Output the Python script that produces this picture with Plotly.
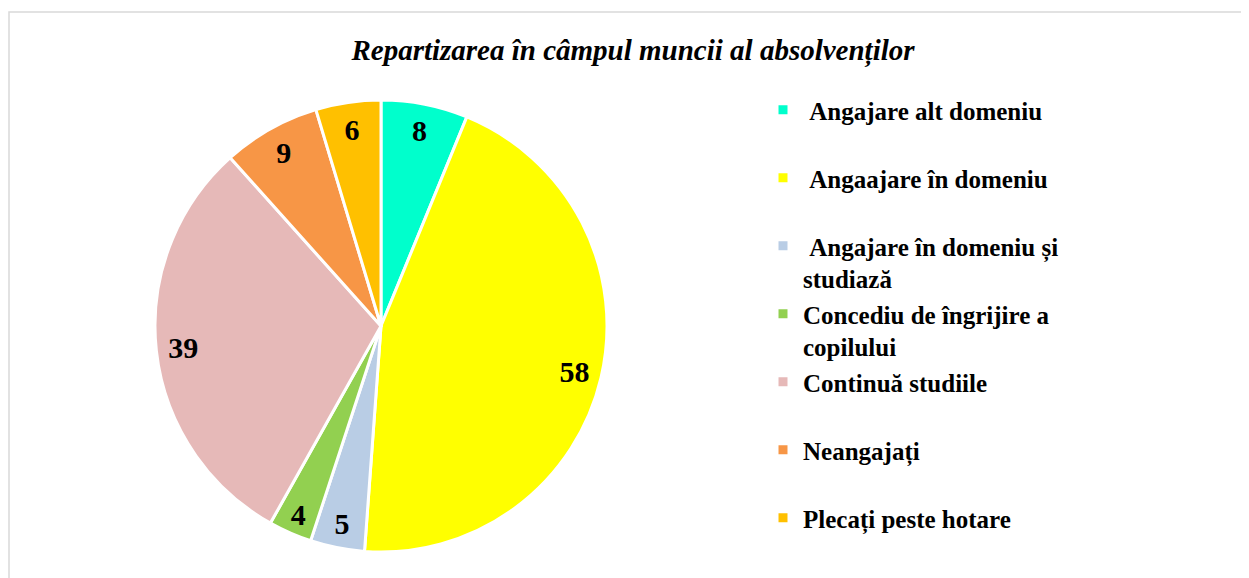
import plotly.graph_objects as go

categories = [
    "\u00a0Angajare alt domeniu<br>\u00a0",
    "\u00a0Angaajare în domeniu<br>\u00a0",
    "\u00a0Angajare în domeniu și<br>studiază",
    "Concediu de îngrijire a<br>copilului",
    "Continuă studiile<br>\u00a0",
    "Neangajați<br>\u00a0",
    "Plecați peste hotare<br>\u00a0",
]
values = [8, 58, 5, 4, 39, 9, 6]
colors = ["#00FFCC", "#FFFF00", "#B9CDE5", "#92D050", "#E6B9B8", "#F79646", "#FFC000"]

W, H = 1249, 578
OFF = 8  # page body margin offset
domain = dict(x=[(155 - OFF) / W, (607 - OFF) / W],
              y=[1 - (552 - OFF) / H, 1 - (100 - OFF) / H])

fig = go.Figure()
fig.add_trace(go.Pie(
    labels=categories,
    values=values,
    sort=False,
    direction="clockwise",
    rotation=0,
    marker=dict(colors=colors, line=dict(color="white", width=3)),
    textinfo="none",
    domain=domain,
    showlegend=True,
))
# transparent ring used only to position the value labels near the rim
fig.add_trace(go.Pie(
    labels=categories,
    values=values,
    sort=False,
    direction="clockwise",
    rotation=0,
    hole=0.76,
    marker=dict(colors=["rgba(0,0,0,0)"] * len(values), line=dict(width=0)),
    textinfo="value",
    textposition="inside",
    insidetextorientation="horizontal",
    textfont=dict(family="Liberation Serif", size=30, color="black", weight="bold"),
    domain=domain,
    showlegend=False,
    hoverinfo="skip",
))

fig.update_layout(
    width=W, height=H,
    margin=dict(l=0, r=0, t=0, b=0),
    paper_bgcolor="white",
    title=dict(
        text="<b><i>Repartizarea în câmpul muncii al absolvenților</i></b>",
        x=(633 - OFF) / W, xanchor="center", y=1 - (50 - OFF) / H, yanchor="middle",
        font=dict(family="Liberation Serif", size=29, color="black"),
    ),
    legend=dict(
        x=(763 - OFF) / W, xanchor="left", y=1 - (87 - OFF) / H, yanchor="top",
        font=dict(family="Liberation Serif", size=25, color="black", weight="bold"),
        valign="top",
        bgcolor="rgba(0,0,0,0)",
        borderwidth=0,
    ),
    shapes=[dict(
        type="rect", xref="paper", yref="paper",
        x0=(9 - OFF) / W, x1=1.05, y0=-0.05, y1=1 - (12 - OFF) / H,
        line=dict(color="#D9D9D9", width=1.5),
    )],
)

fig.write_html("out.html")
